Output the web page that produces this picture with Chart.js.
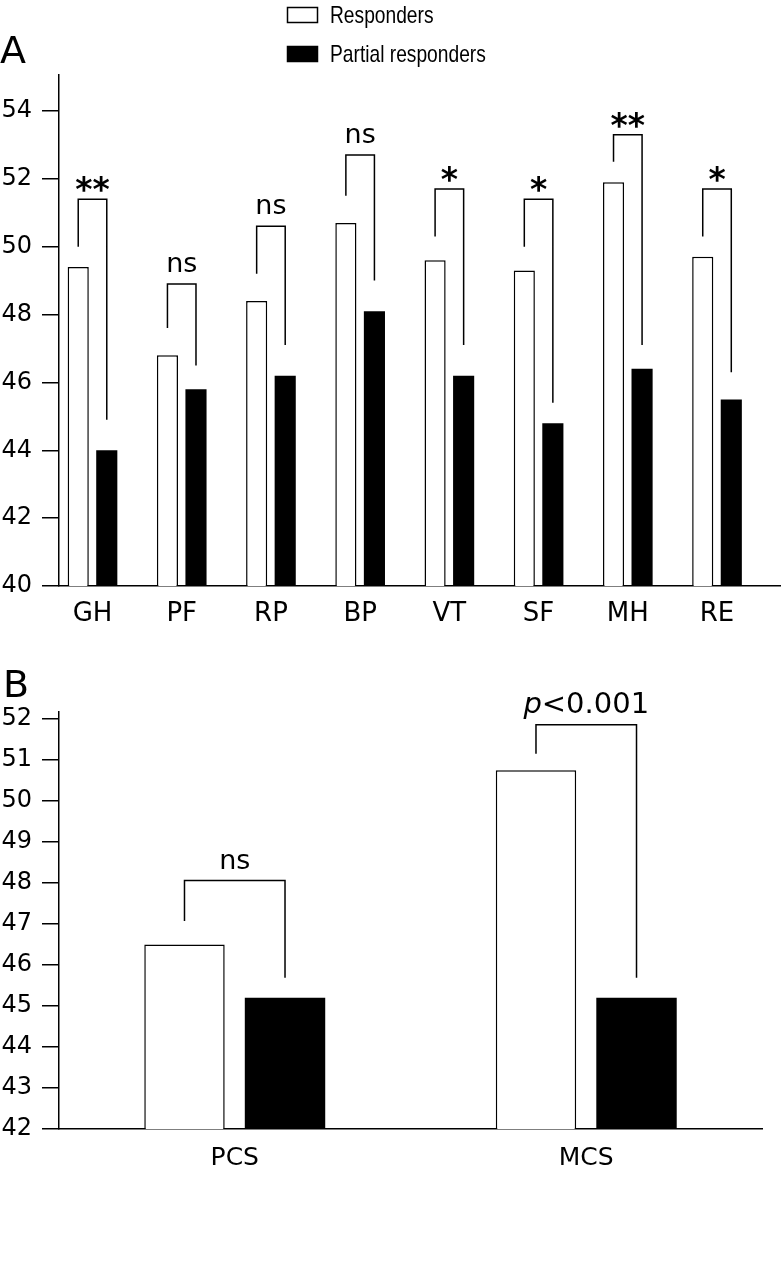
<!DOCTYPE html>
<html>
<head>
<meta charset="utf-8">
<script src="https://cdn.jsdelivr.net/npm/chart.js"></script>
<style>
  body { margin: 0; background: #fff; }
  canvas { display: block; }
</style>
</head>
<body>
<canvas id="chartA" width="783" height="640"></canvas>
<canvas id="chartB" width="783" height="640"></canvas>
<script>
  // panel A - subscales
  const scalesA = ['GH', 'PF', 'RP', 'BP', 'VT', 'SF', 'MH', 'RE'];
  const respA = [49.4, 46.8, 48.4, 50.7, 49.6, 49.3, 51.9, 49.7];
  const partialA = [44.0, 45.8, 46.2, 48.1, 46.2, 44.8, 46.4, 45.5];
  const sigA = ['**', 'ns', 'ns', 'ns', '*', '*', '**', '*'];
  // bracket levels (y units): top bar, left leg end, right leg end
  const brTopA = [51.4, 48.9, 50.6, 52.7, 51.7, 51.4, 53.3, 51.7];
  const brLeftA = [50.0, 47.6, 49.2, 51.5, 50.3, 50.0, 52.5, 50.3];
  const brRightA = [44.9, 46.5, 47.1, 49.0, 47.1, 45.4, 47.1, 46.3];

  // panel B - summary scores
  const scalesB = ['PCS', 'MCS'];
  const respB = [46.5, 50.75];
  const partialB = [45.2, 45.2];
  const sigB = ['ns', 'p<0.001'];
  const brTopB = [48.06, 51.86];
  const brLeftB = [47.07, 51.15];
  const brRightB = [45.69, 45.69];

  Chart.defaults.font.family = 'DejaVu Sans';
  Chart.defaults.color = '#000';

  function drawSig(ctx, text, x, yTop) {
    if (text.indexOf('*') >= 0) {
      ctx.font = 'bold 33px DejaVu Sans';
      ctx.textAlign = 'center';
      ctx.fillText(text, x, yTop + 2);
      return;
    }
    ctx.font = '27px DejaVu Sans';
    if (text.startsWith('p')) {
      // italic p, upright rest
      const rest = text.slice(1);
      ctx.font = 'italic 29px DejaVu Sans';
      const wp = ctx.measureText('p').width;
      ctx.font = '29px DejaVu Sans';
      const wr = ctx.measureText(rest).width;
      const x0 = x - (wp + wr) / 2;
      ctx.textAlign = 'left';
      ctx.font = 'italic 29px DejaVu Sans';
      ctx.fillText('p', x0, yTop - 12);
      ctx.font = '29px DejaVu Sans';
      ctx.fillText(rest, x0 + wp, yTop - 12);
      return;
    }
    ctx.textAlign = 'center';
    ctx.fillText(text, x, yTop - 12);
  }

  function brackets(top, left, right, labels) {
    return {
      id: 'brackets',
      afterDatasetsDraw(chart) {
        const ctx = chart.ctx;
        const y = chart.scales.y;
        const m0 = chart.getDatasetMeta(0);
        const m1 = chart.getDatasetMeta(1);
        ctx.save();
        ctx.strokeStyle = '#000';
        ctx.fillStyle = '#000';
        ctx.lineWidth = 1.5;
        ctx.textBaseline = 'alphabetic';
        for (let i = 0; i < labels.length; i++) {
          const x1 = m0.data[i].x, x2 = m1.data[i].x;
          const yt = y.getPixelForValue(top[i]);
          ctx.beginPath();
          ctx.moveTo(x1, y.getPixelForValue(left[i]));
          ctx.lineTo(x1, yt);
          ctx.lineTo(x2, yt);
          ctx.lineTo(x2, y.getPixelForValue(right[i]));
          ctx.stroke();
          drawSig(ctx, labels[i], (x1 + x2) / 2, yt);
        }
        ctx.restore();
      }
    };
  }

  function panelLabel(text, x, y) {
    return {
      id: 'panel' + text,
      afterDraw(chart) {
        const ctx = chart.ctx;
        ctx.save();
        ctx.fillStyle = '#000';
        ctx.font = '38px DejaVu Sans';
        ctx.textAlign = 'left';
        ctx.textBaseline = 'alphabetic';
        ctx.fillText(text, x, y);
        ctx.restore();
      }
    };
  }

  const legendPlugin = {
    id: 'stackLegend',
    afterDraw(chart) {
      const ctx = chart.ctx;
      ctx.save();
      chart.data.datasets.forEach(function (ds, i) {
        const top = 7 + i * 39;
        ctx.fillStyle = ds.backgroundColor;
        ctx.fillRect(287, top, 31, 16);
        ctx.strokeStyle = '#000';
        ctx.lineWidth = 1.5;
        ctx.strokeRect(287.5, top + 0.5, 30, 15);
        ctx.fillStyle = '#000';
        ctx.font = '24px "Liberation Sans", Arial, sans-serif';
        ctx.textAlign = 'left';
        ctx.textBaseline = 'alphabetic';
        // condensed look
        ctx.save();
        ctx.translate(330, top + 16);
        ctx.scale(0.8, 1);
        ctx.fillText(ds.label, 0, 0);
        ctx.restore();
      });
      ctx.restore();
    }
  };

  const axisLine = { display: true, color: '#000', width: 1.5 };

  new Chart(document.getElementById('chartA'), {
    type: 'bar',
    data: {
      datasets: [{
        label: 'Responders',
        data: scalesA.map((c, i) => ({ x: i, y: respA[i] })),
        backgroundColor: '#fff',
        borderColor: '#000',
        borderWidth: 1.5,
        categoryPercentage: 0.64,
        barPercentage: 0.74
      }, {
        label: 'Partial responders',
        data: scalesA.map((c, i) => ({ x: i, y: partialA[i] })),
        backgroundColor: '#000',
        borderColor: '#000',
        borderWidth: 0,
        categoryPercentage: 0.64,
        barPercentage: 0.74
      }]
    },
    options: {
      responsive: false,
      animation: false,
      layout: { padding: { top: 75, right: 3, left: 0, bottom: 0 } },
      plugins: { legend: { display: false }, tooltip: { enabled: false } },
      scales: {
        x: {
          type: 'linear',
          min: -0.3755,
          max: 7.706,
          offset: false,
          grid: { display: false, drawTicks: false },
          border: axisLine,
          afterBuildTicks: s => { s.ticks = scalesA.map((c, i) => ({ value: i })); },
          ticks: { callback: v => scalesA[v], font: { size: 26 }, padding: 13, autoSkip: false, maxRotation: 0 },
          afterFit: s => { s.height = 54; }
        },
        y: {
          min: 40,
          max: 55.06,
          grid: { display: true, drawOnChartArea: false, drawTicks: true, tickLength: 17, color: '#000', lineWidth: 1.5 },
          border: axisLine,
          ticks: { stepSize: 2, includeBounds: false, font: { size: 24 }, padding: 10 },
          afterFit: s => { s.width = 59; }
        }
      }
    },
    plugins: [brackets(brTopA, brLeftA, brRightA, sigA), panelLabel('A', 0, 63), legendPlugin]
  });

  new Chart(document.getElementById('chartB'), {
    type: 'bar',
    data: {
      labels: scalesB,
      datasets: [{
        label: 'Responders',
        data: respB,
        backgroundColor: '#fff',
        borderColor: '#000',
        borderWidth: 1.5,
        categoryPercentage: 0.572,
        barPercentage: 0.8
      }, {
        label: 'Partial responders',
        data: partialB,
        backgroundColor: '#000',
        borderColor: '#000',
        borderWidth: 0,
        categoryPercentage: 0.572,
        barPercentage: 0.8
      }]
    },
    options: {
      responsive: false,
      animation: false,
      layout: { padding: { top: 72, right: 21, left: 0, bottom: 0 } },
      plugins: { legend: { display: false }, tooltip: { enabled: false } },
      scales: {
        x: {
          grid: { display: false, drawTicks: false },
          border: axisLine,
          ticks: { font: { size: 25 }, padding: 14 },
          afterFit: s => { s.height = 151; }
        },
        y: {
          min: 42,
          max: 52.17,
          grid: { display: true, drawOnChartArea: false, drawTicks: true, tickLength: 17, color: '#000', lineWidth: 1.5 },
          border: axisLine,
          ticks: { stepSize: 1, includeBounds: false, font: { size: 24 }, padding: 10 },
          afterFit: s => { s.width = 59; }
        }
      }
    },
    plugins: [brackets(brTopB, brLeftB, brRightB, sigB), panelLabel('B', 3, 57)]
  });
</script>
</body>
</html>
